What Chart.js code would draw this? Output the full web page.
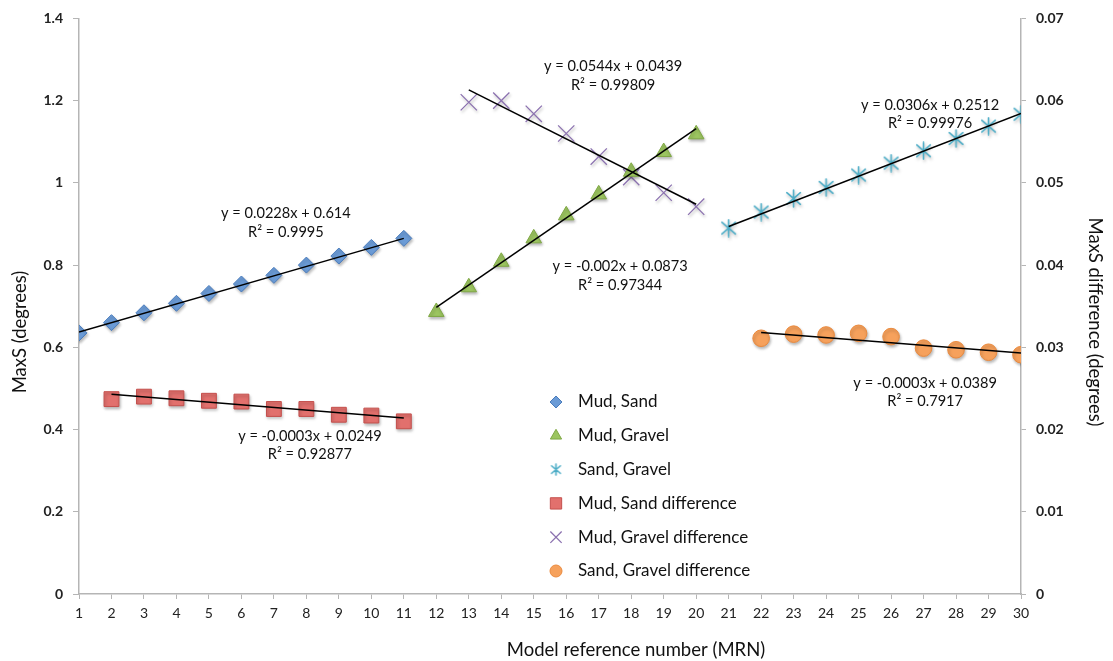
<!DOCTYPE html>
<html><head><meta charset="utf-8">
<script src="https://cdn.jsdelivr.net/npm/chart.js@4/dist/chart.umd.min.js"></script>
<style>html,body{margin:0;padding:0;background:#fff}#wrap{width:1113px;height:661px;position:relative}</style>
</head><body><div id="wrap"><canvas id="c" width="1113" height="661"></canvas></div>
<script>
// ---- data ----
const mudSandX = [1,2,3,4,5,6,7,8,9,10,11];
const mudSand = [0.635,0.660,0.684,0.707,0.731,0.754,0.775,0.800,0.822,0.843,0.865];
const mudGravelX = [12,13,14,15,16,17,18,19,20];
const mudGravel = [0.686,0.746,0.808,0.865,0.921,0.972,1.027,1.075,1.118];
const sandGravelX = [21,22,23,24,25,26,27,28,29,30];
const sandGravel = [0.890,0.929,0.962,0.989,1.019,1.048,1.078,1.108,1.138,1.167];
const mudSandDiffX = [2,3,4,5,6,7,8,9,10,11];
const mudSandDiff = [0.0237,0.0240,0.0238,0.0235,0.0234,0.0225,0.0225,0.0218,0.0217,0.0210];
const mudGravelDiffX = [13,14,15,16,17,18,19,20];
const mudGravelDiff = [0.0598,0.0600,0.0584,0.0560,0.0532,0.0507,0.0488,0.0471];
const sandGravelDiffX = [22,23,24,25,26,27,28,29,30];
const sandGravelDiff = [0.0311,0.0316,0.0315,0.0317,0.0313,0.0299,0.0297,0.0294,0.0291];

// trendline end points [x, y]
const mudSandTrend = [[1,0.637],[11,0.865]];
const mudGravelTrend = [[12,0.697],[20,1.132]];
const sandGravelTrend = [[21,0.894],[30,1.169]];
const mudSandDiffTrend = [[2,0.0243],[11,0.0214]];
const mudGravelDiffTrend = [[13,0.0613],[20,0.0474]];
const sandGravelDiffTrend = [[22,0.0318],[30,0.0293]];

const seriesNames = ['Mud, Sand','Mud, Gravel','Sand, Gravel','Mud, Sand difference','Mud, Gravel difference','Sand, Gravel difference'];
const equations = ['y = 0.0228x + 0.614','y = -0.0003x + 0.0249','y = 0.0544x + 0.0439','y = -0.002x + 0.0873','y = 0.0306x + 0.2512','y = -0.0003x + 0.0389'];
const rSquared = ['R² = 0.9995','R² = 0.92877','R² = 0.99809','R² = 0.97344','R² = 0.99976','R² = 0.7917'];
// label anchors (x in MRN, y on left axis)
const eqAnchorX = [7.37, 8.11, 17.44, 17.66, 27.2, 27.05];
const eqAnchorY = [0.926, 0.384, 1.283, 0.797, 1.189, 0.513];

const xTitle = 'Model reference number (MRN)';
const yTitle = 'MaxS (degrees)';
const y2Title = 'MaxS difference (degrees)';

const xTicks = {min:1, max:30, step:1};
const yLeftTicks = {min:0, max:1.4, step:0.2};
const yRightTicks = {min:0, max:0.07, step:0.01};

// ---- build ----
const FONT = 'Lato, "Open Sans", sans-serif';
function pts(xs, ys){ return xs.map((x,i)=>({x:x, y:ys[i]})); }
function pair(a){ return a.map(p=>({x:p[0], y:p[1]})); }

function asteriskMarker(size, color){
  const c = document.createElement('canvas');
  c.width = size; c.height = size;
  const g = c.getContext('2d');
  const m = size/2, r = size/2 - 1;
  g.strokeStyle = color; g.lineWidth = 1.6; g.lineCap='round';
  g.beginPath();
  g.moveTo(m, m-r); g.lineTo(m, m+r);
  const d = r*0.8;
  g.moveTo(m-d, m-d*0.85); g.lineTo(m+d, m+d*0.85);
  g.moveTo(m-d, m+d*0.85); g.lineTo(m+d, m-d*0.85);
  g.stroke();
  return c;
}
const starBig = asteriskMarker(19, '#4bacc6');
const starSmall = asteriskMarker(13, '#4bacc6');

const styles = [
  {pointStyle:'rectRot', radius:8, bg:'#6b9bd6', border:'#4a7cbc', bw:1, axis:'y', lr:6},
  {pointStyle:'triangle', radius:9, bg:'#9cc560', border:'#7fa844', bw:1, axis:'y', lr:6.5},
  {pointStyle:starBig, legendStyle:starSmall, radius:9, bg:'#4bacc6', border:'#4bacc6', bw:1.5, axis:'y', lr:6},
  {pointStyle:'rect', radius:10.5, bg:'#e2706d', border:'#c4504d', bw:1, axis:'y2', lr:8},
  {pointStyle:'crossRot', radius:11.5, bg:'#8c72b0', border:'#8c72b0', bw:1.3, axis:'y2', lr:8},
  {pointStyle:'circle', radius:8.3, bg:'#f6a15c', border:'#ea8a3e', bw:1, axis:'y2', lr:6}
];
const seriesData = [pts(mudSandX,mudSand), pts(mudGravelX,mudGravel), pts(sandGravelX,sandGravel),
  pts(mudSandDiffX,mudSandDiff), pts(mudGravelDiffX,mudGravelDiff), pts(sandGravelDiffX,sandGravelDiff)];
const trends = [mudSandTrend, mudGravelTrend, sandGravelTrend, mudSandDiffTrend, mudGravelDiffTrend, sandGravelDiffTrend];

const datasets = [];
seriesNames.forEach((name,i)=>{
  const s = styles[i];
  datasets.push({
    label:name, data:seriesData[i], yAxisID:s.axis, showLine:false, marker:true,
    pointStyle:s.pointStyle, pointRadius:s.radius, pointHoverRadius:s.radius,
    backgroundColor:s.bg, borderColor:s.border, pointBorderWidth:s.bw, order:2
  });
});
trends.forEach((t,i)=>{
  datasets.push({
    label:'trend'+i, data:pair(t), yAxisID:styles[i].axis, showLine:true, type:'line',
    borderColor:'#000', borderWidth:1.5, pointRadius:0, fill:false, order:0
  });
});

const shadowPlugin = {
  id:'shadow',
  beforeDatasetDraw(chart, args){
    const ds = chart.data.datasets[args.index];
    if (!ds.marker) return;
    const ctx = chart.ctx; ctx.save();
    ctx.shadowColor = 'rgba(0,0,0,0.28)'; ctx.shadowBlur = 3; ctx.shadowOffsetX = 1; ctx.shadowOffsetY = 2;
  },
  afterDatasetDraw(chart, args){
    const ds = chart.data.datasets[args.index];
    if (!ds.marker) return;
    chart.ctx.restore();
  }
};

const annotPlugin = {
  id:'annot',
  afterDraw(chart){
    const ctx = chart.ctx, xs = chart.scales.x, ys = chart.scales.y;
    ctx.save();
    ctx.fillStyle = '#111';
    ctx.font = '14.6px ' + FONT;
    ctx.textAlign = 'center'; ctx.textBaseline = 'middle';
    equations.forEach((eq,i)=>{
      const px = xs.getPixelForValue(eqAnchorX[i]);
      const py = ys.getPixelForValue(eqAnchorY[i]);
      ctx.fillText(eq, px, py);
      ctx.fillText(rSquared[i], px, py + 18.5);
    });
    // axis titles
    ctx.font = '18.5px ' + FONT;
    ctx.fillText(xTitle, 636, 650);
    ctx.save(); ctx.translate(20, 332); ctx.rotate(-Math.PI/2); ctx.fillText(yTitle, 0, 0); ctx.restore();
    ctx.save(); ctx.translate(1095, 322); ctx.rotate(Math.PI/2); ctx.fillText(y2Title, 0, 0); ctx.restore();
    // legend
    const lx = 556, tx = 578, ly0 = 402, dy = 33.8;
    ctx.textAlign = 'left'; ctx.font = '17px ' + FONT;
    seriesNames.forEach((name,i)=>{
      const s = styles[i], y = ly0 + i*dy;
      ctx.save();
      ctx.fillStyle = s.bg; ctx.strokeStyle = s.border; ctx.lineWidth = s.bw;
      Chart.helpers.drawPoint(ctx, {pointStyle: s.legendStyle || s.pointStyle, radius: s.lr, rotation:0, borderWidth:s.bw}, lx, y);
      ctx.restore();
      ctx.fillStyle = '#111';
      ctx.fillText(name, tx, y);
    });
    ctx.restore();
  }
};

const axisGray = '#b5b5b5';
new Chart(document.getElementById('c'), {
  type:'scatter',
  data:{datasets},
  options:{
    responsive:false, animation:false, devicePixelRatio:1,
    layout:{padding:{top:18,left:0,right:0,bottom:0}},
    plugins:{legend:{display:false}, tooltip:{enabled:false}},
    scales:{
      x:{type:'linear', min:xTicks.min, max:xTicks.max,
        ticks:{stepSize:xTicks.step, color:'#222', font:{family:FONT,size:14}, padding:6, maxRotation:0, autoSkip:false},
        grid:{display:true, drawOnChartArea:false, tickLength:5, color:axisGray},
        border:{color:axisGray, width:1.5},
        afterFit(s){ s.height = 67; }
      },
      y:{position:'left', min:yLeftTicks.min, max:yLeftTicks.max,
        ticks:{stepSize:yLeftTicks.step, color:'#222', font:{family:FONT,size:14, weight:'bold'}, padding:10,
          callback:v=>String(+v.toFixed(2))},
        grid:{display:true, drawOnChartArea:false, tickLength:6, color:axisGray},
        border:{color:axisGray, width:1.5},
        afterFit(s){ s.width = 79; }
      },
      y2:{position:'right', min:yRightTicks.min, max:yRightTicks.max,
        ticks:{stepSize:yRightTicks.step, color:'#222', font:{family:FONT,size:14, weight:'bold'}, padding:10,
          callback:v=>String(+v.toFixed(3))},
        grid:{display:true, drawOnChartArea:false, tickLength:5, color:axisGray},
        border:{color:axisGray, width:1.5},
        afterFit(s){ s.width = 92; }
      }
    }
  },
  plugins:[shadowPlugin, annotPlugin]
});
</script></body></html>
